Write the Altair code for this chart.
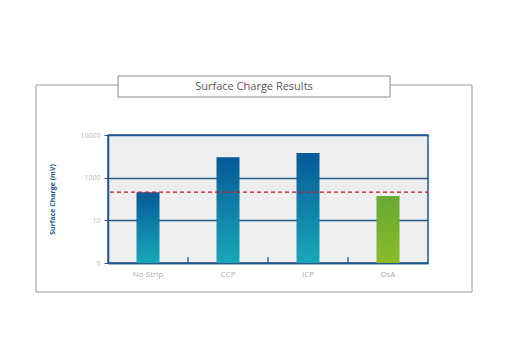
import altair as alt
import pandas as pd

categories = ["No Strip", "CCP", "ICP", "DsA"]
# values in axis units (tick positions 0,1,2,3 labelled 0, 10, 1000, 10000)
values = [1.66, 2.48, 2.58, 1.57]
groups = ["blue", "blue", "blue", "green"]
threshold = 1.66
tick_pos = [0, 1, 2, 3]
tick_labels = ["0", "10", "1000", "10000"]

df = pd.DataFrame({"cat": categories, "val": values, "grp": groups})
label_map = "{" + ",".join(f"'{p}':'{l}'" for p, l in zip(tick_pos, tick_labels)) + "}"

AX = "#22588f"
W, H = 320, 128

xenc = alt.X("cat:N", sort=categories, scale=alt.Scale(paddingInner=0, paddingOuter=0),
             axis=alt.Axis(title=None, ticks=False, domainColor=AX, domainWidth=1.5,
                           labelColor="#b0b0b0", labelFontSize=8, labelAngle=0, labelPadding=7,
                           labelFont="Open Sans"))
yscale = alt.Scale(domain=[0, 3], nice=False)
yenc = alt.Y("val:Q", scale=yscale,
             axis=alt.Axis(title="Surface Charge (mV)", values=tick_pos,
                           labelExpr=f"{label_map}[datum.value]",
                           grid=True, gridColor=AX, gridWidth=1.3,
                           domainColor=AX, domainWidth=1.5, tickColor=AX, tickSize=4,
                           labelColor="#b8b8b8", labelFontSize=7, labelFont="Open Sans",
                           labelPadding=4,
                           titleColor=AX, titleFontSize=7, titleFontWeight="bold",
                           titleFont="Open Sans", titleX=-56, titleY=H / 2, titleAngle=270,
                           titleAlign="center", titleBaseline="middle"))

base = alt.Chart(df)

blue_grad = alt.Gradient(gradient="linear", x1=0, x2=0, y1=0, y2=1,
                         stops=[alt.GradientStop(color="#055a98", offset=0),
                                alt.GradientStop(color="#1aa8b9", offset=1)])
green_grad = alt.Gradient(gradient="linear", x1=0, x2=0, y1=0, y2=1,
                          stops=[alt.GradientStop(color="#68a935", offset=0),
                                 alt.GradientStop(color="#8bbb2a", offset=1)])

outer = base.transform_filter("datum.cat == 'No Strip'").mark_rect(
    fill=None, stroke="#9a9a9a", strokeWidth=1, clip=False).encode(
    x=alt.value(-72), x2=alt.value(364), y=alt.value(-50), y2=alt.value(157))
title_box = base.transform_filter("datum.cat == 'No Strip'").mark_rect(
    fill="white", stroke="#8a8a8a", strokeWidth=1, clip=False).encode(
    x=alt.value(10), x2=alt.value(282), y=alt.value(-59), y2=alt.value(-38))
title_text = base.transform_filter("datum.cat == 'No Strip'").mark_text(
    text="Surface Charge Results", fontSize=11, color="#5a5a5a", font="Open Sans").encode(
    x=alt.value(146), y=alt.value(-48))

bars_blue = base.transform_filter("datum.grp == 'blue'").mark_bar(size=23, fill=blue_grad).encode(
    x=xenc, y=yenc)
bars_green = base.transform_filter("datum.grp == 'green'").mark_bar(size=23, fill=green_grad).encode(
    x=alt.X("cat:N", sort=categories), y=alt.Y("val:Q"))

ticks = base.transform_filter("datum.cat != 'No Strip'").mark_rule(
    color=AX, strokeWidth=1.3).encode(
    x=alt.X("cat:N", sort=categories, bandPosition=0), y=alt.value(H), y2=alt.value(H - 6))

thresh = alt.Chart(pd.DataFrame({"t": [threshold]})).mark_rule(
    color="#c8142c", strokeDash=[4, 3], strokeWidth=1.2).encode(
    y=alt.Y("t:Q", scale=yscale), x=alt.value(2), x2=alt.value(W))

chart = alt.layer(outer, title_box, title_text, bars_blue, bars_green, ticks, thresh).properties(
    width=W, height=H,
    autosize=alt.AutoSizeParams(type="none"),
    padding={"left": 108, "top": 135, "right": 92, "bottom": 94},
    background="white",
).configure_view(fill="#eeeeee", stroke=AX, strokeWidth=1.5)

chart.save("out.html", embed_options={"renderer": "svg", "actions": False})
